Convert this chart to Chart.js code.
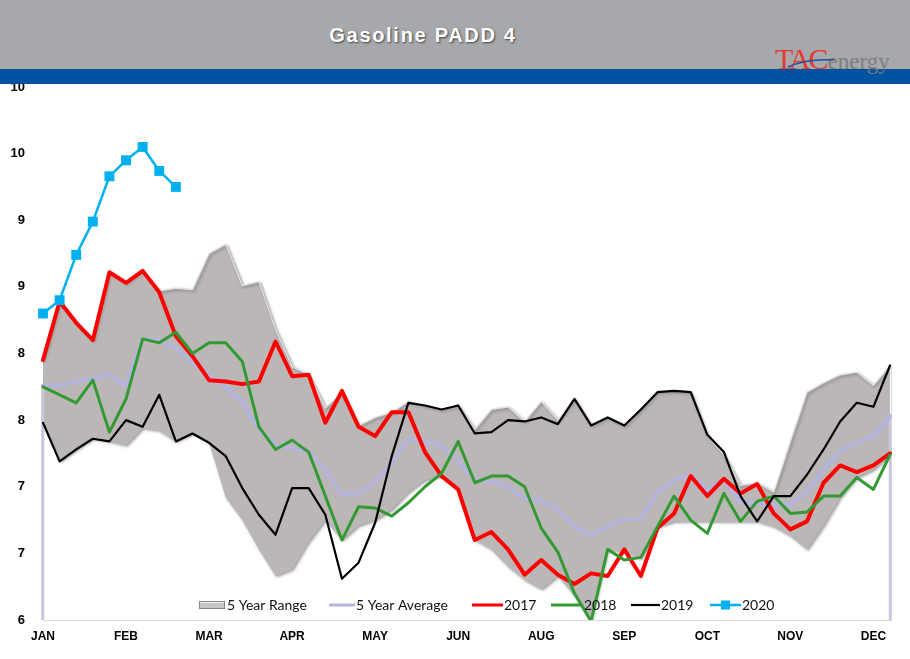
<!DOCTYPE html>
<html>
<head>
<meta charset="utf-8">
<script src="https://cdn.jsdelivr.net/npm/chart.js@4"></script>
<style>
html,body{margin:0;padding:0;background:#ffffff;}
#wrap{position:relative;width:910px;height:659px;overflow:hidden;background:#fff;}
#c{position:absolute;left:0;top:0;}
#hdr{position:absolute;left:0;top:0;width:910px;height:69px;background:#a7a8ab;}
#band{position:absolute;left:0;top:69px;width:910px;height:15px;background:#0153a2;}
#title{position:absolute;left:0;width:846px;top:24px;text-align:center;font:bold 20px "Liberation Sans",Arial,sans-serif;color:#ffffff;letter-spacing:1.7px;text-shadow:1px 1px 2px rgba(0,0,0,0.6);}
#logo{position:absolute;left:775px;top:42px;white-space:nowrap;font-family:"Liberation Serif","Times New Roman",serif;}
#logo .tac{color:#e33b2e;font-size:30px;letter-spacing:-2px;}
#logo .en{color:#7d7d7d;font-size:23px;margin-left:1px;}
#swoosh{position:absolute;left:786px;top:54px;}
</style>
</head>
<body>
<div id="wrap">
  <canvas id="c" width="910" height="659"></canvas>
  <div id="hdr"></div>
  <div id="band"></div>
  <div id="title">Gasoline PADD 4</div>
  <div id="logo"><span class="tac">TAC</span><span class="en">energy</span></div>
  <svg id="swoosh" width="50" height="16" viewBox="0 0 50 16"><path d="M2 13 C 15 7, 30 5, 48 6" stroke="#1f4fa0" stroke-width="1.6" fill="none"/></svg>
</div>
<script>
// ---- data ----
const weeks = [1,2,3,4,5,6,7,8,9,10,11,12,13,14,15,16,17,18,19,20,21,22,23,24,25,26,
               27,28,29,30,31,32,33,34,35,36,37,38,39,40,41,42,43,44,45,46,47,48,49,50,51,52];
const monthTicks = ['JAN','FEB','MAR','APR','MAY','JUN','AUG','SEP','OCT','NOV','DEC'];
const yTickLabels = ['6','7','7','8','8','9','9','10','10'];

const range5Max = [7.95,8.39,8.23,8.10,8.61,8.53,8.62,8.47,8.49,8.48,8.75,8.82,8.51,8.54,8.18,7.90,7.84,7.59,7.71,7.46,
                   7.52,7.56,7.64,7.61,7.58,7.61,7.43,7.58,7.60,7.49,7.64,7.50,7.66,7.46,7.52,7.46,7.58,7.71,7.72,7.71,
                   7.38,7.24,7.01,7.03,6.96,7.34,7.71,7.78,7.84,7.86,7.76,7.91];
const range5Min = [7.48,7.19,7.28,7.36,7.34,7.31,7.44,7.42,7.34,7.40,7.33,6.92,6.75,6.53,6.33,6.38,6.59,6.75,6.60,6.71,
                   6.75,6.83,6.96,7.05,7.08,6.98,6.60,6.53,6.40,6.30,6.23,6.33,6.18,6.00,6.53,6.51,6.46,6.70,6.74,6.74,
                   6.74,6.74,6.74,6.74,6.70,6.63,6.53,6.71,6.92,7.07,7.13,7.24];
const avg5 = [7.76,7.76,7.79,7.81,7.84,7.76,8.11,8.10,8.04,7.93,7.84,7.75,7.63,7.43,7.31,7.29,7.26,7.13,6.94,6.95,
              7.04,7.18,7.36,7.34,7.31,7.19,7.05,7.04,7.00,6.91,6.90,6.83,6.70,6.64,6.70,6.76,6.76,6.96,7.05,7.09,
              6.98,7.05,6.89,6.88,6.86,6.87,6.96,7.13,7.27,7.33,7.38,7.53];
const y2017 = [7.95,8.39,8.23,8.10,8.61,8.53,8.62,8.46,8.13,7.98,7.80,7.79,7.77,7.79,8.09,7.83,7.84,7.48,7.72,7.45,
               7.38,7.56,7.56,7.26,7.08,6.98,6.60,6.66,6.53,6.34,6.45,6.34,6.27,6.35,6.33,6.53,6.33,6.69,6.80,7.08,
               6.93,7.06,6.95,7.02,6.80,6.68,6.74,7.03,7.16,7.11,7.16,7.25];
const y2018 = [7.75,7.69,7.63,7.80,7.41,7.66,8.11,8.08,8.16,8.00,8.08,8.08,7.94,7.45,7.28,7.35,7.26,6.93,6.60,6.85,
               6.84,6.78,6.88,7.00,7.10,7.34,7.03,7.08,7.08,7.00,6.69,6.51,6.20,5.99,6.53,6.45,6.47,6.70,6.93,6.75,
               6.65,6.95,6.74,6.89,6.93,6.80,6.81,6.93,6.93,7.07,6.98,7.24];
const y2019 = [7.48,7.19,7.28,7.36,7.34,7.50,7.45,7.69,7.34,7.40,7.33,7.23,6.99,6.79,6.64,6.99,6.99,6.79,6.31,6.43,
               6.73,7.23,7.63,7.61,7.58,7.61,7.40,7.41,7.50,7.49,7.52,7.47,7.66,7.46,7.52,7.46,7.58,7.71,7.72,7.71,
               7.39,7.26,6.93,6.74,6.93,6.93,7.09,7.28,7.49,7.63,7.60,7.91];
const y2020 = [8.30,8.40,8.74,8.99,9.33,9.45,9.55,9.37,9.25];

// ---- styles ----
const C = {
  range:'#bbb7b7', rangeEdge:'#e4e2e2', avg:'#b4b4dc', r17:'#ff0000', g18:'#339933', b19:'#000000', c20:'#00b0f0'
};

const RANGE_MAX_IDX = 5;

const extras = {
  id:'extras',
  beforeDatasetsDraw(chart){
    const ctx = chart.ctx;
    ctx.shadowColor = 'rgba(0,0,0,0.38)';
    ctx.shadowBlur = 3;
    ctx.shadowOffsetX = 1.5;
    ctx.shadowOffsetY = 1.5;
  },
  afterDatasetDraw(chart, args){
    if (args.index === RANGE_MAX_IDX) {
      const ctx = chart.ctx;
      ctx.shadowColor = 'rgba(0,0,0,0)';
      ctx.shadowBlur = 0; ctx.shadowOffsetX = 0; ctx.shadowOffsetY = 0;
      const xs = chart.scales.x, ys = chart.scales.y, a = chart.chartArea;
      ctx.save();
      ctx.strokeStyle = '#c6c6e0';
      ctx.lineWidth = 2.5;
      ctx.beginPath();
      ctx.moveTo(xs.getPixelForValue(0), ys.getPixelForValue(avg5[0]));
      ctx.lineTo(xs.getPixelForValue(0), a.bottom);
      const last = avg5.length - 1;
      ctx.moveTo(xs.getPixelForValue(last), ys.getPixelForValue(avg5[last]));
      ctx.lineTo(xs.getPixelForValue(last), a.bottom);
      ctx.stroke();
      ctx.strokeStyle = '#d4d4d4';
      ctx.lineWidth = 1;
      ctx.beginPath();
      ctx.moveTo(a.left - 1.5, ys.getPixelForValue(avg5[0])); ctx.lineTo(a.left - 1.5, a.bottom);
      ctx.moveTo(a.right + 1.5, ys.getPixelForValue(range5Max[last])); ctx.lineTo(a.right + 1.5, a.bottom + 1);
      ctx.stroke();
      ctx.restore();
    }
  },
  afterDraw(chart){
    const ctx = chart.ctx;
    const ds = chart.data.datasets;
    const y = 605;
    const items = [
      {ds:5, type:'box',  x0:199, x1:225, tx:227},
      {ds:4, type:'line', x0:329, x1:355, tx:356},
      {ds:3, type:'line', x0:472, x1:503, tx:504},
      {ds:2, type:'line', x0:551, x1:583, tx:584},
      {ds:1, type:'line', x0:631, x1:660, tx:661},
      {ds:0, type:'line', x0:710, x1:741, tx:742, marker:true}
    ];
    ctx.save();
    ctx.font = '14px Lato, "Open Sans", sans-serif';
    ctx.textBaseline = 'middle';
    items.forEach(it => {
      const d = ds[it.ds];
      if (it.type === 'box') {
        ctx.fillStyle = '#c9c6c6';
        ctx.fillRect(it.x0, y - 4, it.x1 - it.x0, 8);
        ctx.strokeStyle = '#858585'; ctx.lineWidth = 1;
        ctx.strokeRect(it.x0 + 0.5, y - 3.5, it.x1 - it.x0 - 1, 7);
        ctx.strokeStyle = '#f4f4f4';
        ctx.beginPath(); ctx.moveTo(it.x0 + 1.5, y - 2.5); ctx.lineTo(it.x1 - 1.5, y - 2.5); ctx.stroke();
      } else {
        ctx.strokeStyle = d.borderColor;
        ctx.lineWidth = Math.min(d.borderWidth, 3);
        ctx.beginPath(); ctx.moveTo(it.x0, y); ctx.lineTo(it.x1, y); ctx.stroke();
        if (it.marker) {
          ctx.fillStyle = d.pointBackgroundColor;
          const m = (it.x0 + it.x1) / 2;
          ctx.fillRect(m - 4.5, y - 4.5, 9, 9);
        }
      }
      ctx.fillStyle = '#111111';
      ctx.fillText(d.label, it.tx, y);
    });
    ctx.restore();
  }
};

new Chart(document.getElementById('c'), {
  type:'line',
  data:{
    labels: weeks,
    datasets:[
      {label:'2020', data:y2020, borderColor:C.c20, backgroundColor:C.c20, borderWidth:2.5,
       pointStyle:'rect', pointRadius:7, pointBackgroundColor:C.c20, pointBorderColor:C.c20, pointBorderWidth:0, order:0},
      {label:'2019', data:y2019, borderColor:C.b19, borderWidth:2.2, pointRadius:0, order:1},
      {label:'2018', data:y2018, borderColor:C.g18, borderWidth:3, pointRadius:0, order:2},
      {label:'2017', data:y2017, borderColor:C.r17, borderWidth:4, pointRadius:0, order:3},
      {label:'5 Year Average', data:avg5, borderColor:C.avg, borderWidth:4, pointRadius:0, order:4},
      {label:'5 Year Range', data:range5Max, borderColor:C.rangeEdge, borderWidth:1.2, backgroundColor:C.range,
       pointRadius:0, fill:6, order:5},
      {label:'5 Year Range Low', data:range5Min, borderWidth:0, borderColor:'rgba(0,0,0,0)', pointRadius:0, fill:false, order:6}
    ]
  },
  options:{
    responsive:false,
    animation:false,
    devicePixelRatio:1,
    layout:{padding:{left:0, right:20, top:87, bottom:0}},
    elements:{line:{tension:0, borderJoinStyle:'round', borderCapStyle:'round'}},
    plugins:{legend:{display:false}, tooltip:{enabled:false}},
    scales:{
      x:{
        type:'category',
        offset:false,
        grid:{display:false, drawTicks:false},
        border:{display:true, color:'#d9d9d9', width:1},
        ticks:{autoSkip:false, maxRotation:0, minRotation:0, padding:9, color:'#000',
               font:{family:'"Liberation Sans", Arial, sans-serif', size:12, weight:'bold'},
               callback:(v, i) => (i % 5 === 0 ? (monthTicks[i / 5] || '') : '')},
        afterFit:(s) => { s.height = 39; }
      },
      y:{
        min:6, max:10,
        grid:{display:false, drawTicks:false},
        border:{display:false},
        ticks:{stepSize:0.5, padding:18, color:'#000',
               font:{family:'"Liberation Sans", Arial, sans-serif', size:13, weight:'bold'},
               callback:(v, i) => yTickLabels[i]},
        afterFit:(s) => { s.width = 43; }
      }
    }
  },
  plugins:[extras]
});
</script>
</body>
</html>
